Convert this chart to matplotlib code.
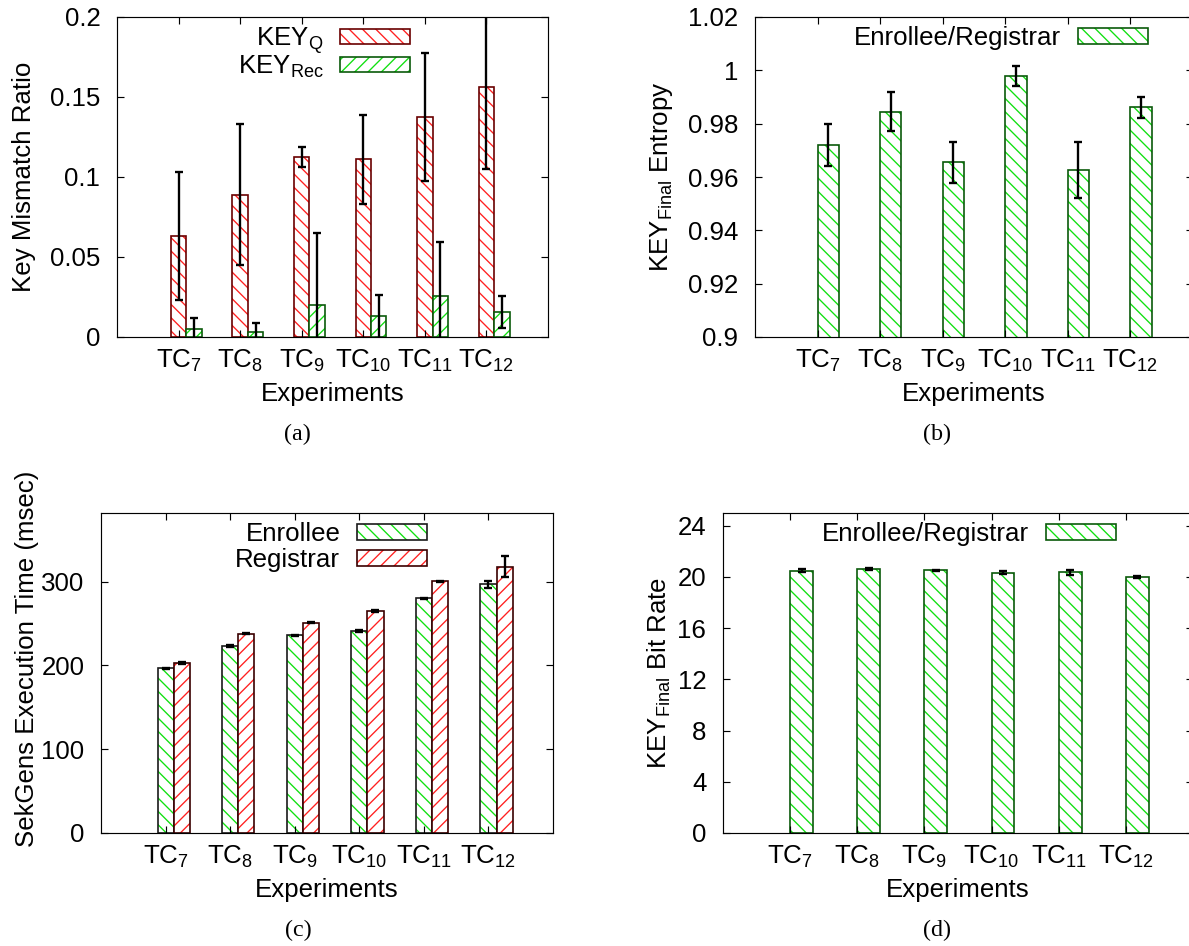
import matplotlib
matplotlib.use('Agg')
import matplotlib.pyplot as plt
from matplotlib.legend_handler import HandlerTuple
import numpy as np

plt.rcParams['font.family'] = ['Liberation Sans', 'DejaVu Sans']
plt.rcParams['mathtext.fontset'] = 'custom'
plt.rcParams['mathtext.rm'] = 'Liberation Sans'
plt.rcParams['mathtext.it'] = 'Liberation Sans:italic'
plt.rcParams['mathtext.bf'] = 'Liberation Sans:bold'
plt.rcParams['hatch.linewidth'] = 0.8
plt.rcParams['axes.linewidth'] = 0.7

# ---------------- data ----------------
categories = ['TC$_{7}$', 'TC$_{8}$', 'TC$_{9}$', 'TC$_{10}$', 'TC$_{11}$', 'TC$_{12}$']

key_q = [0.063, 0.089, 0.1125, 0.111, 0.1375, 0.156]
key_q_err = [0.040, 0.044, 0.006, 0.028, 0.040, 0.051]
key_rec = [0.005, 0.003, 0.020, 0.013, 0.0255, 0.0155]
key_rec_err = [0.007, 0.0055, 0.045, 0.0135, 0.034, 0.010]

entropy = [0.972, 0.9845, 0.9655, 0.998, 0.9626, 0.9861]
entropy_err = [0.008, 0.0072, 0.0077, 0.0038, 0.0105, 0.004]

enrollee_time = [196.4, 223.1, 235.9, 241.0, 280.1, 296.9]
enrollee_err = [1.0, 1.0, 0.8, 1.2, 0.8, 4.5]
registrar_time = [202.4, 237.8, 251.0, 264.6, 300.5, 317.6]
registrar_err = [1.2, 0.6, 0.8, 1.2, 0.6, 12.5]

bit_rate = [20.49, 20.62, 20.52, 20.34, 20.36, 20.02]
bit_rate_err = [0.10, 0.10, 0.06, 0.12, 0.18, 0.06]

yt_a = [0, 0.05, 0.1, 0.15, 0.2]
yt_a_lab = ['0', '0.05', '0.1', '0.15', '0.2']
yt_b = [0.9, 0.92, 0.94, 0.96, 0.98, 1.0, 1.02]
yt_b_lab = ['0.9', '0.92', '0.94', '0.96', '0.98', '1', '1.02']
yt_c = [0, 100, 200, 300]
yt_d = [0, 4, 8, 12, 16, 20, 24]

# ---------------- style ----------------
RED_H = '#ff2020'
RED_E = '#6a0000'
GRN_H = '#10e010'
GRN_E = '#0a5a0a'
FS = 15.5

W, H = 1189, 946
DPI = 120
fig = plt.figure(figsize=(W / DPI, H / DPI), dpi=DPI)


def px_axes(l, r, t, b):
    return fig.add_axes([l / W, 1 - b / H, (r - l) / W, (b - t) / H])


def hbar(ax, x, h, w, hatch, hc, ec):
    b1 = ax.bar(x, h, w, facecolor='white', edgecolor=hc, hatch=hatch, linewidth=0)
    b2 = ax.bar(x, h, w, fill=False, edgecolor=ec, linewidth=1.0)
    return (b1.patches[0], b2.patches[0])


def errb(ax, x, h, e):
    ax.errorbar(x, h, yerr=e, fmt='none', ecolor='black', elinewidth=1.4,
                capsize=2.2, capthick=1.4, zorder=5)


def style(ax, yt, ylab=None):
    ax.set_xlim(0, 7)
    ax.set_xticks(np.arange(1, 7))
    ax.set_xticklabels(categories)
    ax.set_yticks(yt)
    if ylab is not None:
        ax.set_yticklabels(ylab)
    ax.tick_params(axis='both', direction='in', length=4, width=0.7,
                   top=True, right=True, labelsize=FS)
    ax.tick_params(axis='y', pad=10)
    ax.tick_params(axis='x', pad=6.5)


def legend(ax, handles, labels, x, y, spacing=0.0):
    ax.legend(handles, labels, loc='upper right', bbox_to_anchor=(x, y),
              frameon=False, markerfirst=False, fontsize=FS, borderpad=0,
              borderaxespad=0, handlelength=2.7, handleheight=0.55,
              handletextpad=0.65, labelspacing=spacing,
              handler_map={tuple: HandlerTuple(ndivide=1)})


x = np.arange(1, 7)

# ---------------- (a) ----------------
ax = px_axes(117, 548, 17, 337)
ha = hbar(ax, x, key_q, 0.25, '\\\\\\', RED_H, RED_E)
hb = hbar(ax, x + 0.25, key_rec, 0.25, '///', GRN_H, GRN_E)
errb(ax, x, key_q, key_q_err)
errb(ax, x + 0.25, key_rec, key_rec_err)
ax.set_ylim(0, 0.2)
style(ax, yt_a, yt_a_lab)
ax.set_xlabel('Experiments', fontsize=FS)
ax.set_ylabel('Key Mismatch Ratio', fontsize=FS)
ax.xaxis.set_label_coords(0.5, -0.14)
ax.yaxis.set_label_coords(-0.188, 0.5)
legend(ax, [ha, hb], ['KEY$_\\mathrm{Q}$', 'KEY$_\\mathrm{Rec}$'], 0.680, 0.974, -0.1)

# ---------------- (b) ----------------
ax = px_axes(755, 1193, 17, 337)
hc_ = hbar(ax, x + 0.17, entropy, 0.34, '\\\\\\', GRN_H, GRN_E)
errb(ax, x + 0.17, entropy, entropy_err)
ax.set_ylim(0.9, 1.02)
style(ax, yt_b, yt_b_lab)
ax.set_xlabel('Experiments', fontsize=FS)
ax.set_ylabel('KEY$_\\mathrm{Final}$ Entropy', fontsize=FS)
ax.xaxis.set_label_coords(0.5, -0.14)
ax.yaxis.set_label_coords(-0.183, 0.5)
legend(ax, [hc_], ['Enrollee/Registrar'], 0.897, 0.972)

# ---------------- (c) ----------------
ax = px_axes(101, 553, 513, 833)
h1 = hbar(ax, x, enrollee_time, 0.25, '\\\\\\', GRN_H, '#1a1a1a')
h2 = hbar(ax, x + 0.25, registrar_time, 0.25, '///', RED_H, '#3a0000')
errb(ax, x, enrollee_time, enrollee_err)
errb(ax, x + 0.25, registrar_time, registrar_err)
ax.set_ylim(0, 382)
style(ax, yt_c)
ax.set_xlabel('Experiments', fontsize=FS)
ax.set_ylabel('SekGens Execution Time (msec)', fontsize=FS)
ax.xaxis.set_label_coords(0.5, -0.14)
ax.yaxis.set_label_coords(-0.137, 0.545)
legend(ax, [h1, h2], ['Enrollee', 'Registrar'], 0.721, 0.972, 0.08)

# ---------------- (d) ----------------
ax = px_axes(723, 1193, 513, 833)
hd = hbar(ax, x + 0.17, bit_rate, 0.34, '\\\\\\', GRN_H, GRN_E)
errb(ax, x + 0.17, bit_rate, bit_rate_err)
ax.set_ylim(0, 25)
style(ax, yt_d)
ax.set_xlabel('Experiments', fontsize=FS)
ax.set_ylabel('KEY$_\\mathrm{Final}$ Bit Rate', fontsize=FS)
ax.xaxis.set_label_coords(0.5, -0.14)
ax.yaxis.set_label_coords(-0.107, 0.5)
legend(ax, [hd], ['Enrollee/Registrar'], 0.836, 0.972)

# ---------------- captions ----------------
for lab, cx, cy in [('(a)', 297, 434), ('(b)', 937, 434), ('(c)', 298, 930), ('(d)', 937, 930)]:
    fig.text(cx / W, 1 - cy / H, lab, family='Liberation Serif', fontsize=14.5,
             ha='center', va='center')

fig.savefig('out.png', dpi=DPI)
